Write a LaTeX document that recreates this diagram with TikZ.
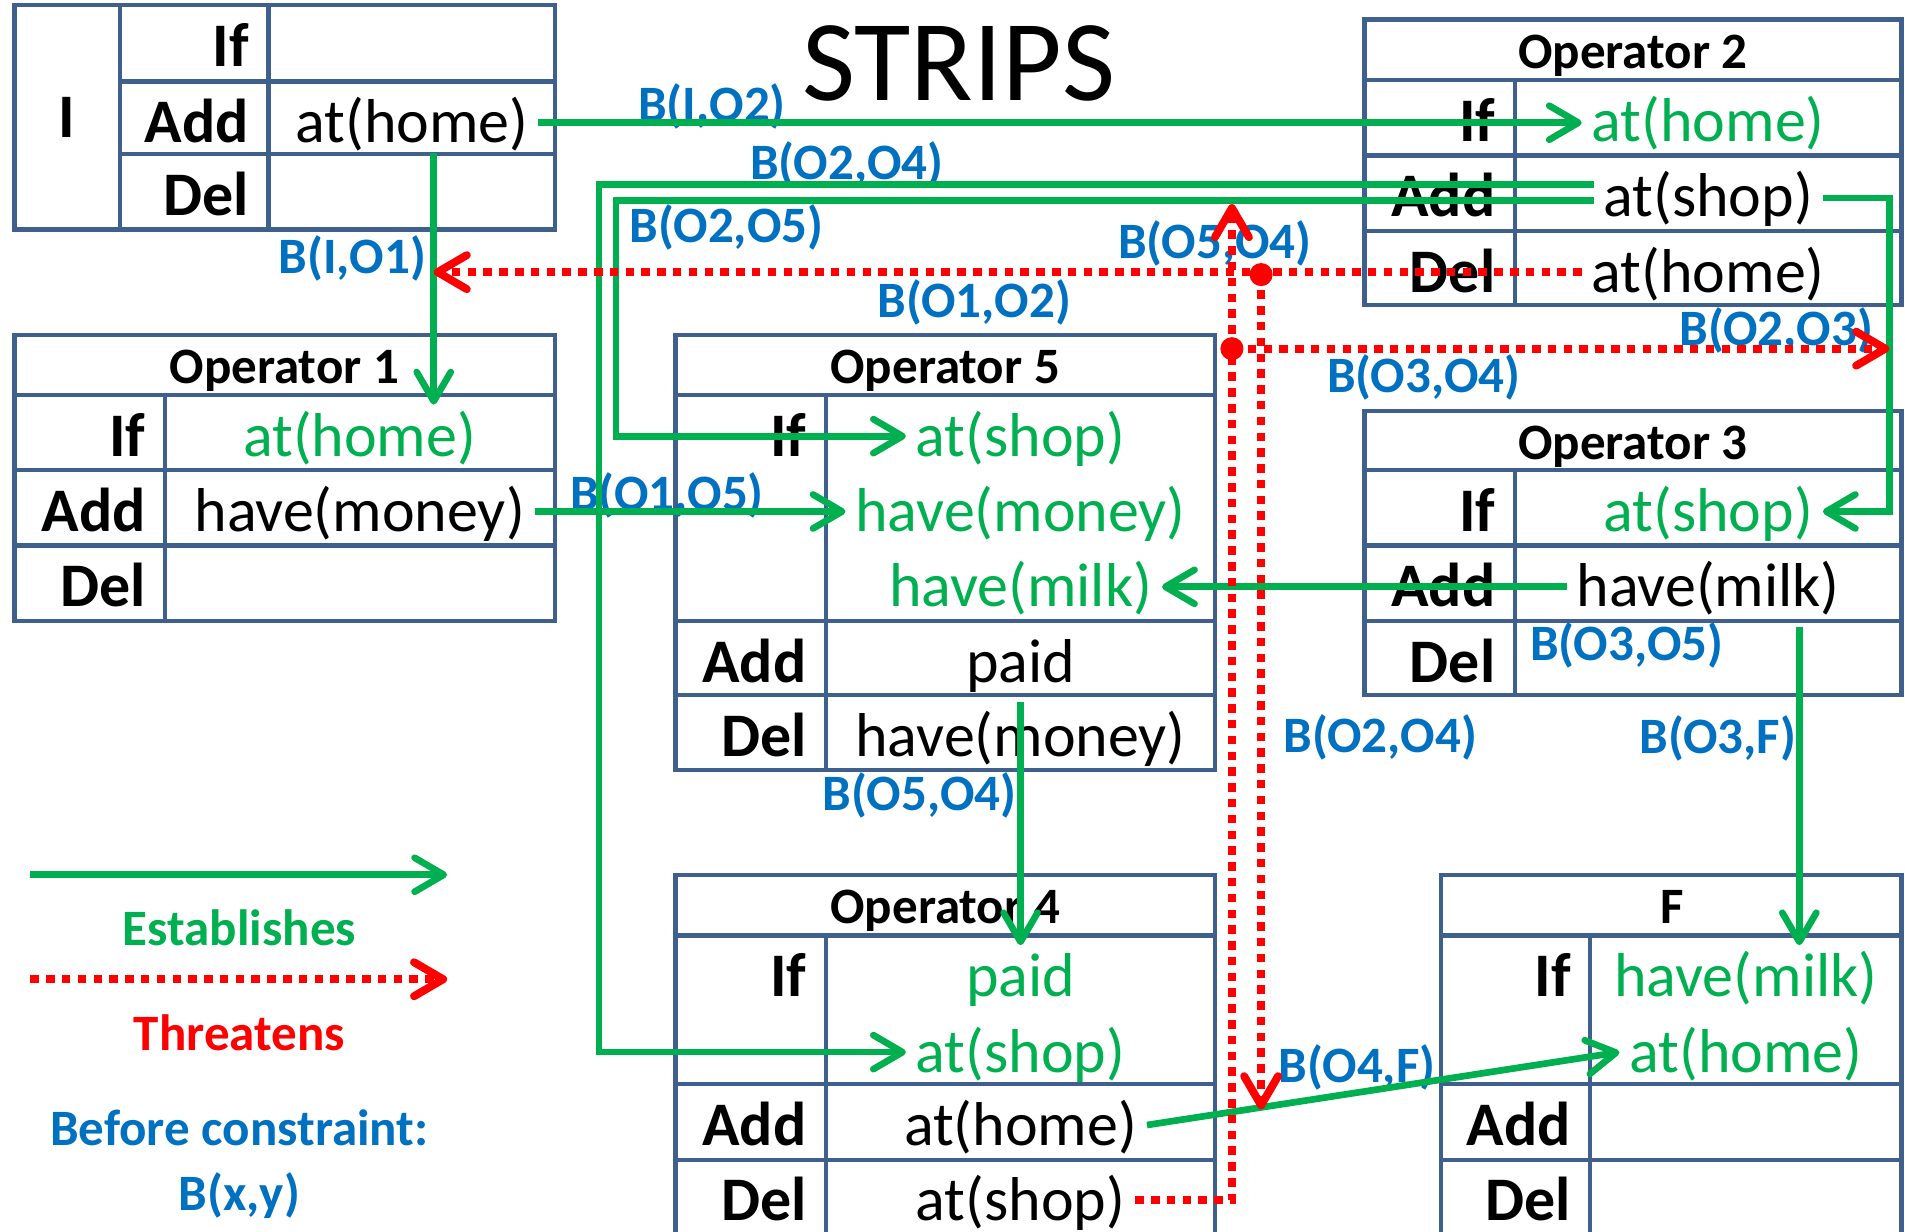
\documentclass[tikz,border=0pt]{standalone}
\usepackage{fontspec}
\setmainfont{Carlito}
\usetikzlibrary{arrows.meta,calc}
\definecolor{tblblue}{RGB}{63,95,140}
\definecolor{estgreen}{RGB}{0,176,80}
\definecolor{bblue}{RGB}{0,112,192}
\begin{document}
\begin{tikzpicture}[x=1pt, y=-1pt,
    tbl/.style={draw=tblblue, line width=3.5pt},
    cell/.style={inner sep=8pt, text height=41pt, text depth=8pt, font=\fontsize{51}{60}\selectfont},
    key/.style={cell, anchor=east, font=\fontsize{51}{60}\selectfont\bfseries},
    pre/.style={cell, text=estgreen},
    head/.style={cell, text height=34pt, text depth=6pt, font=\fontsize{42}{50}\selectfont\bfseries},
    bc/.style={cell, text height=34pt, text depth=6pt, text=bblue, font=\fontsize{42}{50}\selectfont\bfseries},
    est/.style={draw=estgreen, line width=5.5pt, -{Straight Barb[length=24pt,width=28pt,round]}},
    thr/.style={draw=red, line width=6.5pt, dash pattern=on 7pt off 6pt, -{Straight Barb[length=24pt,width=28pt,round]}}]
\useasboundingbox (0, 0) rectangle (1568, 1014);

\node[anchor=base, font=\fontsize{95}{110}\selectfont] (title) at (789, 83) {STRIPS};

% I
\draw[tbl] (12, 4) rectangle (457, 189);
\draw[tbl] (99, 4) -- (99, 189) (221, 4) -- (221, 189) (99, 67) -- (457, 67) (99, 127) -- (457, 127);
\node[key, anchor=center] (iname) at (55, 97) {I};
\node[key] (ik1) at (213, 38) {If};
\node[key] (ik2) at (213, 101) {Add};
\node[key] (ik3) at (213, 161) {Del};
\node[cell] (iadd) at (339, 101) {at(home)};

% Operator 1
\draw[tbl] (12, 276) rectangle (457, 511);
\draw[tbl] (12, 325) -- (457, 325) (12, 387) -- (457, 387) (12, 449) -- (457, 449) (136, 325) -- (136, 511);
\node[head] (o1) at (234, 302) {Operator 1};
\node[key] (o1k1) at (128, 359) {If};
\node[key] (o1k2) at (128, 421) {Add};
\node[key] (o1k3) at (128, 483) {Del};
\node[pre] (o1if) at (296, 359) {at(home)};
\node[cell] (o1add) at (296, 421) {have(money)};

% Operator 2
\draw[tbl] (1123, 16) rectangle (1565, 251);
\draw[tbl] (1123, 66) -- (1565, 66) (1123, 128) -- (1565, 128) (1123, 190) -- (1565, 190) (1247, 66) -- (1247, 251);
\node[head] (o2) at (1344, 42) {Operator 2};
\node[key] (o2k1) at (1239, 100) {If};
\node[key] (o2k2) at (1239, 162) {Add};
\node[key] (o2k3) at (1239, 224) {Del};
\node[pre] (o2if) at (1406, 100) {at(home)};
\node[cell] (o2add) at (1406, 162) {at(shop)};
\node[cell] (o2del) at (1406, 224) {at(home)};

% Operator 3
\draw[tbl] (1123, 338) rectangle (1565, 572);
\draw[tbl] (1123, 387) -- (1565, 387) (1123, 449) -- (1565, 449) (1123, 511) -- (1565, 511) (1247, 387) -- (1247, 572);
\node[head] (o3) at (1344, 364) {Operator 3};
\node[key] (o3k1) at (1239, 421) {If};
\node[key] (o3k2) at (1239, 483) {Add};
\node[key] (o3k3) at (1239, 545) {Del};
\node[pre] (o3if) at (1406, 421) {at(shop)};
\node[cell] (o3add) at (1406, 483) {have(milk)};

% Operator 5
\draw[tbl] (556, 276) rectangle (1000, 634);
\draw[tbl] (556, 325) -- (1000, 325) (556, 511) -- (1000, 511) (556, 572) -- (1000, 572) (680, 325) -- (680, 634);
\node[head] (o5) at (778, 302) {Operator 5};
\node[key] (o5k1) at (672, 359) {If};
\node[key] (o5k2) at (672, 545) {Add};
\node[key] (o5k3) at (672, 606) {Del};
\node[pre] (o5shop) at (840, 359) {at(shop)};
\node[pre] (o5money) at (840, 421) {have(money)};
\node[pre] (o5milk) at (840, 483) {have(milk)};
\node[cell] (o5paid) at (840, 545) {paid};
\node[cell] (o5del) at (840, 606) {have(money)};

% Operator 4
\draw[tbl] (556, 720) rectangle (1000, 1017);
\draw[tbl] (556, 770) -- (1000, 770) (556, 892) -- (1000, 892) (556, 955) -- (1000, 955) (680, 770) -- (680, 1017);
\node[head] (o4) at (778, 746) {Operator 4};
\node[key] (o4k1) at (672, 804) {If};
\node[key] (o4k2) at (672, 926) {Add};
\node[key] (o4k3) at (672, 988) {Del};
\node[pre] (o4paid) at (840, 804) {paid};
\node[pre] (o4shop) at (840, 866) {at(shop)};
\node[cell] (o4add) at (840, 926) {at(home)};
\node[cell] (o4del) at (840, 988) {at(shop)};

% F
\draw[tbl] (1186, 720) rectangle (1565, 1017);
\draw[tbl] (1186, 770) -- (1565, 770) (1186, 892) -- (1565, 892) (1186, 955) -- (1565, 955) (1309, 770) -- (1309, 1017);
\node[head] (f) at (1376, 746) {F};
\node[key] (fk1) at (1301, 804) {If};
\node[key] (fk2) at (1301, 926) {Add};
\node[key] (fk3) at (1301, 988) {Del};
\node[pre] (fmilk) at (1437, 804) {have(milk)};
\node[pre] (fhome) at (1437, 866) {at(home)};

% before constraints
\node[bc] (bio2) at (586, 86) {B(I,O2)};
\node[bc] (bio1) at (290, 211) {B(I,O1)};
\node[bc] (bo2o4) at (697, 134) {B(O2,O4)};
\node[bc] (bo2o5) at (598, 186) {B(O2,O5)};
\node[bc] (bo5o4) at (1000, 199) {B(O5,O4)};
\node[bc] (bo1o2) at (802, 247) {B(O1,O2)};
\node[bc] (bo2o3) at (1462, 270) {B(O2,O3)};
\node[bc] (bo3o4) at (1172, 309) {B(O3,O4)};
\node[bc] (bo1o5) at (549, 406) {B(O1,O5)};
\node[bc] (bo3o5) at (1339, 530) {B(O3,O5)};
\node[bc] (bo2o4b) at (1136, 605) {B(O2,O4)};
\node[bc] (bo3f) at (1414, 606) {B(O3,F)};
\node[bc] (bo5o4b) at (757, 653) {B(O5,O4)};
\node[bc] (bo4f) at (1117, 877) {B(O4,F)};

\coordinate (io1) at (357, 333);
\coordinate (c24) at (493, 152);
\coordinate (c25) at (507, 165);
\coordinate (c23) at (1555, 163);
\coordinate (o3f) at (1481, 778);
\coordinate (o54) at (840, 778);
\coordinate (dota) at (1038, 226);
\coordinate (dotb) at (1014, 287);
\coordinate (t54) at (1014, 168);
\coordinate (t4f) at (1038, 913);

% establishes
\draw[est] (iadd.east) -- (iadd.east -| o2if.west);
\draw[est] ($(iadd.south -| io1) + (0, -8)$) -- (io1);
\draw[est] (o2add.west |- c24) -- (c24) |- (o4shop.west);
\draw[est] (o2add.west |- c25) -- (c25) |- (o5shop.west);
\draw[est] (o2add.east |- c23) -- (c23) |- (o3if.east);
\draw[est] (o1add.east) -- (o5money.west);
\draw[est] (o3add.west) -- (o5milk.east);
\draw[est] (o3add.south -| o3f) -- (o3f);
\draw[est] (o5paid.south) -- (o54);
\draw[est] (o4add.east) -- (fhome.west);

% threatens
\draw[thr] (o2del.west) -- (o2del.west -| io1);
\draw[thr] (dota) -- (t4f);
\draw[thr] (o4del.east) -| (t54);
\draw[thr] (dotb) -- (dotb -| c23);
\fill[red] (dota) circle (9.5pt);
\fill[red] (dotb) circle (9.5pt);

% legend
\coordinate (le1) at (25, 720);
\coordinate (le2) at (368, 720);
\coordinate (lt1) at (25, 806);
\coordinate (lt2) at (368, 806);
\draw[est] (le1) -- (le2);
\node[bc, text=estgreen] (lest) at (197, 764) {Establishes};
\draw[thr] (lt1) -- (lt2);
\node[bc, text=red] (lthr) at (197, 851) {Threatens};
\node[bc] (lbc) at (197, 929) {Before constraint:};
\node[bc] (lbxy) at (197, 982) {B(x,y)};
\end{tikzpicture}
\end{document}
